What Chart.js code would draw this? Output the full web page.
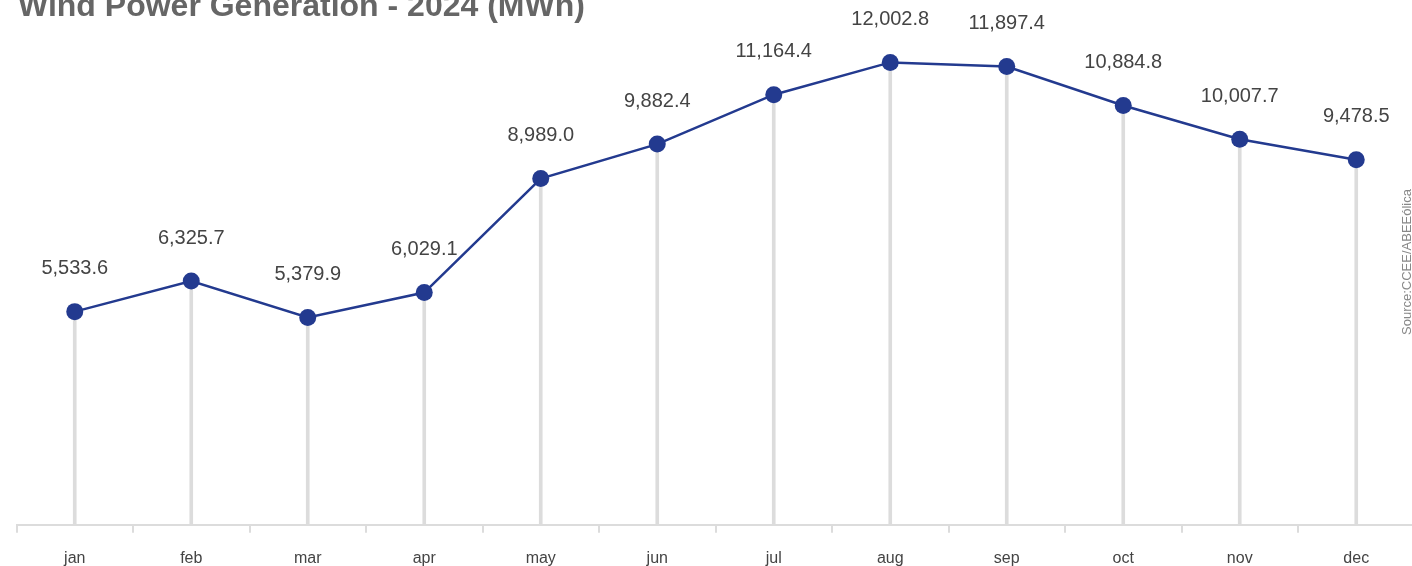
<!DOCTYPE html>
<html><head><meta charset="utf-8">
<script src="https://cdn.jsdelivr.net/npm/chart.js@4/dist/chart.umd.min.js"></script>
<style>html,body{margin:0;padding:0;overflow:hidden;background:#fff}canvas{display:block}</style>
</head><body><canvas id="c" width="1423" height="584"></canvas>
<script>
const categories = ['jan','feb','mar','apr','may','jun','jul','aug','sep','oct','nov','dec'];
const generation = [5533.6, 6325.7, 5379.9, 6029.1, 8989.0, 9882.4, 11164.4, 12002.8, 11897.4, 10884.8, 10007.7, 9478.5];
const titleText = 'Wind Power Generation - 2024 (MWh)';
const sourceText = 'Source:CCEE/ABEEólica';

const fmt = v => v.toLocaleString('en-US',{minimumFractionDigits:1,maximumFractionDigits:1});

const overlay = {
  id:'overlay',
  afterDatasetsDraw(chart){
    const ctx = chart.ctx;
    const meta = chart.getDatasetMeta(0);
    ctx.save();
    ctx.font = '20px "Liberation Sans", Arial, sans-serif';
    ctx.fillStyle = '#444';
    ctx.textAlign = 'center';
    ctx.textBaseline = 'middle';
    meta.data.forEach((p,i)=>{ ctx.fillText(fmt(generation[i]), p.x, p.y - 43); });
    ctx.restore();
  },
  afterDraw(chart){
    const ctx = chart.ctx;
    ctx.save();
    ctx.font = 'bold 32px "Liberation Sans", Arial, sans-serif';
    ctx.fillStyle = '#666';
    ctx.textAlign = 'left';
    ctx.textBaseline = 'alphabetic';
    ctx.fillText(titleText, 18, 16);
    ctx.translate(1407, 262);
    ctx.rotate(-Math.PI/2);
    ctx.font = '13px "Liberation Sans", Arial, sans-serif';
    ctx.fillStyle = '#888';
    ctx.textAlign = 'center';
    ctx.textBaseline = 'middle';
    ctx.fillText(sourceText, 0, 0);
    ctx.restore();
  }
};

new Chart(document.getElementById('c'), {
  data: {
    labels: categories,
    datasets: [
      { type:'line', data: generation, borderColor:'#233a8f', borderWidth:2.5, pointRadius:8.5, pointHoverRadius:8.5,
        pointBackgroundColor:'#233a8f', pointBorderColor:'#233a8f', pointBorderWidth:0, order:0, tension:0 },
      { type:'bar', data: generation, backgroundColor:'#dcdcdc', barThickness:3, order:1 }
    ]
  },
  options: {
    responsive:false, animation:false,
    layout:{ padding:{ top:24, left:16.5, right:1.5, bottom:0 } },
    plugins:{ legend:{display:false}, tooltip:{enabled:false}, title:{display:false} },
    scales:{
      x:{ offset:true,
          afterFit(s){ s.paddingLeft = 0; s.paddingRight = 0; },
          grid:{ offset:true, drawOnChartArea:false, drawTicks:true, tickLength:8, color:'#dcdcdc', lineWidth:2 },
          border:{ color:'#dcdcdc', width:2 },
          ticks:{ color:'#444', font:{ size:16, family:'"Liberation Sans", Arial, sans-serif' }, padding:16 } },
      y:{ display:false, min:0, max:13000 }
    }
  },
  plugins:[overlay]
});
</script></body></html>
